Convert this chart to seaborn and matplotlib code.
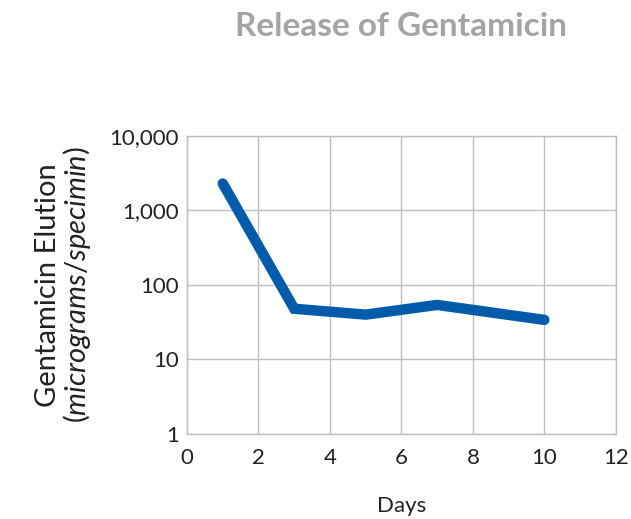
import pandas as pd
import seaborn as sns
import matplotlib.pyplot as plt
import numpy as np

# Data
days = [1, 3, 5, 7, 10]
elution = [2300, 48, 40, 54, 34]
x_ticks = [0, 2, 4, 6, 8, 10, 12]
y_ticks = [1, 10, 100, 1000, 10000]
y_tick_labels = ['1', '10', '100', '1,000', '10,000']

df = pd.DataFrame({'Days': days, 'Elution': elution})

sns.set_style('white')
plt.rcParams['font.family'] = ['Lato', 'DejaVu Sans']
plt.rcParams['mathtext.fontset'] = 'custom'
plt.rcParams['mathtext.it'] = 'Lato:italic'
plt.rcParams['mathtext.rm'] = 'Lato'

grid_col = '#BDBDC2'

fig = plt.figure(figsize=(6.31, 5.19), dpi=100)
ax = fig.add_axes([0.2964, 0.1638, 0.6796, 0.5742])

sns.lineplot(data=df, x='Days', y='Elution', ax=ax, color='#005BAA',
             linewidth=7.5, solid_capstyle='round', solid_joinstyle='miter')

ax.set_yscale('log')
ax.set_xlim(0, 12)
ax.set_ylim(1, 10000)
ax.set_xticks(x_ticks)
ax.set_xticklabels([str(t) for t in x_ticks])
ax.set_yticks(y_ticks)
ax.set_yticklabels(y_tick_labels)
ax.minorticks_off()
ax.tick_params(axis='both', length=0, labelsize=16, colors='#222222')
ax.tick_params(axis='x', pad=10)
ax.tick_params(axis='y', pad=6)

ax.grid(True, color=grid_col, linewidth=1)
ax.set_axisbelow(True)
for s in ax.spines.values():
    s.set_color(grid_col)
    s.set_linewidth(1)

ax.set_xlabel('Days', fontsize=16, color='#222222', labelpad=20)
ax.set_ylabel('Gentamicin Elution\n($micrograms/specimin$)', fontsize=21,
              color='#222222', labelpad=12, linespacing=1.0)

fig.text(0.636, 0.948, 'Release of Gentamicin', ha='center', va='center',
         fontsize=24, fontweight='bold', color='#A3A3A8')

fig.savefig('out.png', dpi=100)
